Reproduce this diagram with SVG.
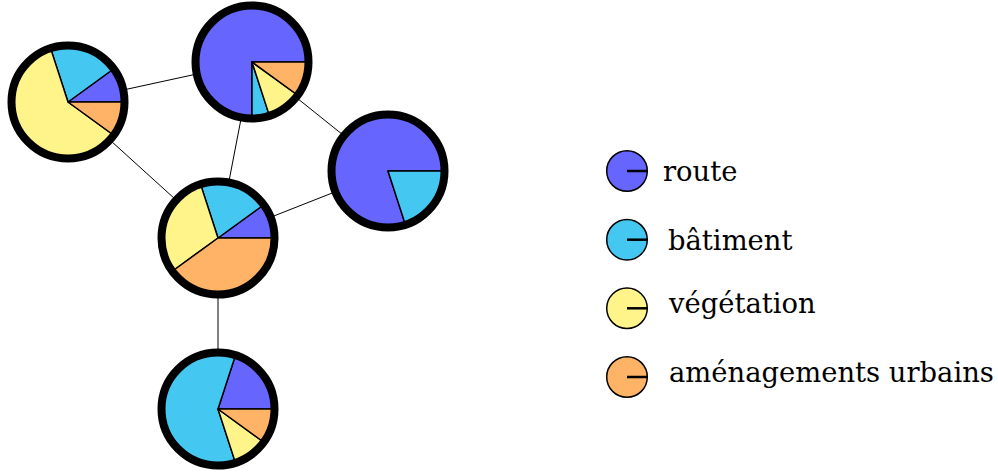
<svg xmlns="http://www.w3.org/2000/svg" width="998" height="475" viewBox="0 0 998 475">
<style>
.bg{fill:#ffffff}
.edge{stroke:#000;stroke-width:1;fill:none}
.s{stroke:#000;stroke-width:1.5;stroke-linejoin:round}
.route{fill:#6666ff}
.bat{fill:#44c8f2}
.veg{fill:#fff48a}
.am{fill:#ffb366}
.ring{fill:none;stroke:#000;stroke-width:8}
.lc{stroke:#000;stroke-width:1.5}
.lr{stroke:#000;stroke-width:2.5}
.lbl{font-family:"DejaVu Serif","Liberation Serif",serif;font-size:27.4px;fill:#000}
</style>
<rect class="bg" x="0" y="0" width="998" height="475"/>
<g id="connectors">
<line class="edge" x1="68" y1="102" x2="252" y2="62"/>
<line class="edge" x1="252" y1="62" x2="388" y2="171"/>
<line class="edge" x1="68" y1="102" x2="218" y2="238"/>
<line class="edge" x1="252" y1="62" x2="218" y2="238"/>
<line class="edge" x1="218" y1="238" x2="388" y2="171"/>
<line class="edge" x1="218" y1="238" x2="218" y2="409"/>
</g>
<g id="nodeA">
<path class="s route" d="M68,102 L122,102 A54,54 0 0 0 111.69,70.26 Z"/>
<path class="s bat" d="M68,102 L111.69,70.26 A54,54 0 0 0 51.31,50.64 Z"/>
<path class="s veg" d="M68,102 L51.31,50.64 A54,54 0 1 0 111.69,133.74 Z"/>
<path class="s am" d="M68,102 L111.69,133.74 A54,54 0 0 0 122,102 Z"/>
<circle class="ring" cx="68" cy="102" r="56.5"/>
</g>
<g id="nodeB">
<path class="s route" d="M252,62 L306,62 A54,54 0 1 0 252,116 Z"/>
<path class="s bat" d="M252,62 L252,116 A54,54 0 0 0 268.69,113.36 Z"/>
<path class="s veg" d="M252,62 L268.69,113.36 A54,54 0 0 0 295.69,93.74 Z"/>
<path class="s am" d="M252,62 L295.69,93.74 A54,54 0 0 0 306,62 Z"/>
<circle class="ring" cx="252" cy="62" r="56.5"/>
</g>
<g id="nodeC">
<path class="s route" d="M388,171 L442,171 A54,54 0 1 0 404.69,222.36 Z"/>
<path class="s bat" d="M388,171 L404.69,222.36 A54,54 0 0 0 442,171 Z"/>
<circle class="ring" cx="388" cy="171" r="56.5"/>
</g>
<g id="nodeD">
<path class="s route" d="M218,238 L272,238 A54,54 0 0 0 261.69,206.26 Z"/>
<path class="s bat" d="M218,238 L261.69,206.26 A54,54 0 0 0 201.31,186.64 Z"/>
<path class="s veg" d="M218,238 L201.31,186.64 A54,54 0 0 0 174.31,269.74 Z"/>
<path class="s am" d="M218,238 L174.31,269.74 A54,54 0 0 0 272,238 Z"/>
<circle class="ring" cx="218" cy="238" r="56.5"/>
</g>
<g id="nodeE">
<path class="s route" d="M218,409 L272,409 A54,54 0 0 0 234.69,357.64 Z"/>
<path class="s bat" d="M218,409 L234.69,357.64 A54,54 0 1 0 234.69,460.36 Z"/>
<path class="s veg" d="M218,409 L234.69,460.36 A54,54 0 0 0 261.69,440.74 Z"/>
<path class="s am" d="M218,409 L261.69,440.74 A54,54 0 0 0 272,409 Z"/>
<circle class="ring" cx="218" cy="409" r="56.5"/>
</g>
<g id="legend-route">
<circle class="lc route" cx="627" cy="171" r="20.3"/>
<line class="lr" x1="627" y1="171" x2="647.3" y2="171"/>
<text class="lbl" x="663" y="180.5">route</text>
</g>
<g id="legend-batiment">
<circle class="lc bat" cx="627" cy="239.7" r="20.3"/>
<line class="lr" x1="627" y1="239.7" x2="647.3" y2="239.7"/>
<text class="lbl" x="668" y="250">bâtiment</text>
</g>
<g id="legend-vegetation">
<circle class="lc veg" cx="627" cy="308.3" r="20.3"/>
<line class="lr" x1="627" y1="308.3" x2="647.3" y2="308.3"/>
<text class="lbl" x="669" y="313">végétation</text>
</g>
<g id="legend-amenagements">
<circle class="lc am" cx="627" cy="377" r="20.3"/>
<line class="lr" x1="627" y1="377" x2="647.3" y2="377"/>
<text class="lbl" x="669" y="382">aménagements urbains</text>
</g>
</svg>
